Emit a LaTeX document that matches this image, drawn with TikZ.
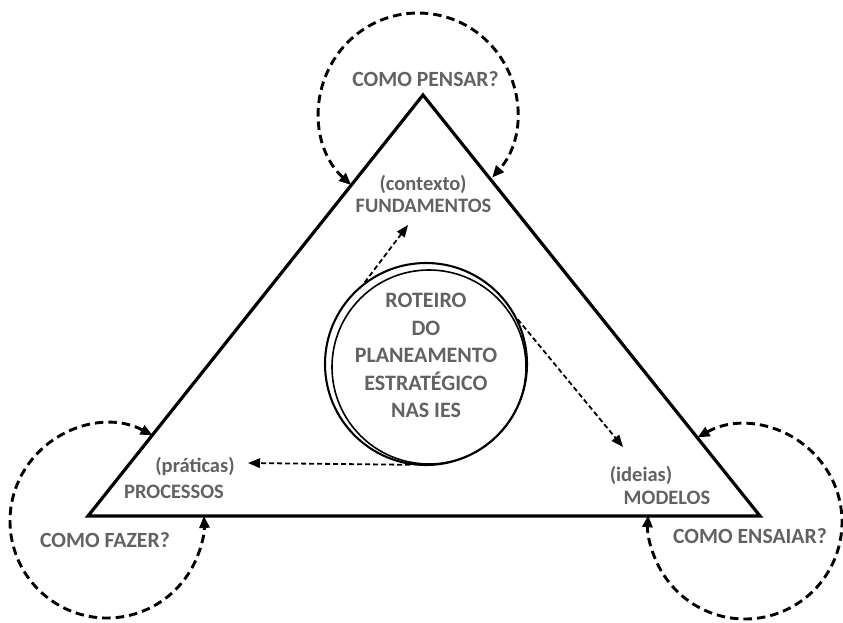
\documentclass[tikz,border=0pt]{standalone}
\usepackage{fontspec}
\setmainfont{Carlito}
\usetikzlibrary{arrows.meta}
\definecolor{txtgrey}{RGB}{98,98,100}
\begin{document}
\begin{tikzpicture}[x=1pt,y=1pt,
  tri/.style={line width=3.2pt, line join=miter},
  loopline/.style={line width=2.9pt, dash pattern=on 8.5pt off 5pt,
    {Triangle[length=12pt,width=10pt]}-{Triangle[length=12pt,width=10pt]}},
  flow/.style={line width=1.8pt, dash pattern=on 5pt off 3pt,
    -{Triangle[length=12pt,width=9.5pt]}},
  capl/.style={text=txtgrey, font=\bfseries\fontsize{20.5}{24}\selectfont, inner sep=0pt, anchor=base},
  subl/.style={text=txtgrey, font=\bfseries\fontsize{20.5}{24}\selectfont, inner sep=0pt, anchor=base},
  quest/.style={text=txtgrey, font=\bfseries\fontsize{21.7}{26}\selectfont, inner sep=0pt, anchor=base}]
\useasboundingbox (0,0) rectangle (843,622);

% triangle
\coordinate (A) at (423,527);
\coordinate (B) at (88,106);
\coordinate (C) at (760,106);
\draw[tri] (A) -- (B) -- (C) -- cycle;

% dashed loops
\coordinate (tc) at (418,510);
\path (tc) ++(227.5:99) coordinate (t1);
\draw[loopline] (t1) arc[start angle=227.5, end angle=-41.5, radius=99];

\coordinate (lc) at (107,101);
\path (lc) ++(62:97) coordinate (l1);
\draw[loopline] (l1) arc[start angle=62, end angle=363, radius=97];

\coordinate (rc) at (745,100);
\path (rc) ++(119.3:97) coordinate (r1);
\draw[loopline] (r1) arc[start angle=119.3, end angle=-184, radius=97];

% central circle
\node[draw, circle, minimum size=202pt, inner sep=0pt, line width=2.1pt] (core) at (426,258) {};
\node[draw, circle, minimum size=194pt, inner sep=0pt, line width=1.6pt] (coreinner) at (429,255) {};
\node[text=txtgrey, font=\bfseries\fontsize{22}{27.5}\selectfont, align=center, inner sep=0pt]
  (roteiro) at (426,266.2) {ROTEIRO\\DO\\PLANEAMENTO\\ESTRATÉGICO\\NAS IES};

% flows from centre
\coordinate (f1) at (408,397);
\coordinate (f2) at (248,159);
\coordinate (f3) at (623,175);
\draw[flow] (core.127.5) -- (f1);
\draw[flow] (core.261) -- (f2);
\draw[flow] (core.26.8) -- (f3);

% labels
\node[quest] (q1) at (425.5,535) {COMO PENSAR?};
\node[quest] (q2) at (105,75) {COMO FAZER?};
\node[quest] (q3) at (750,79) {COMO ENSAIAR?};
\node[subl] (s1) at (423,431) {(contexto)};
\node[capl] (c1) at (423.5,409) {FUNDAMENTOS};
\node[subl] (s2) at (195,150) {(práticas)};
\node[capl] (c2) at (174,124) {PROCESSOS};
\node[subl] (s3) at (641,141) {(ideias)};
\node[capl] (c3) at (667,118) {MODELOS};
\end{tikzpicture}
\end{document}
